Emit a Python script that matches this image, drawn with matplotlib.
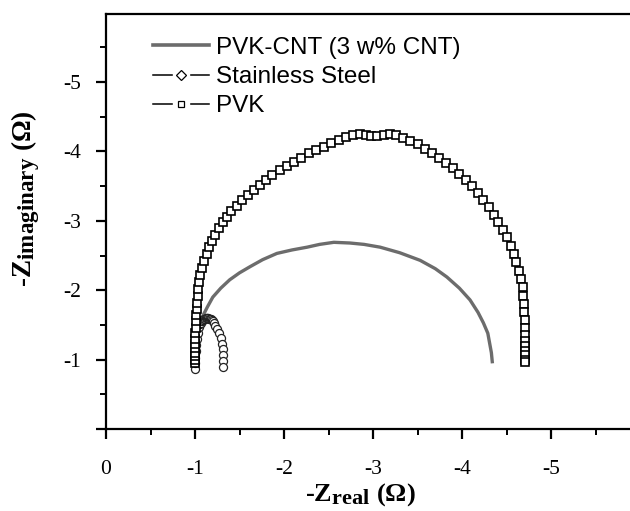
import matplotlib
matplotlib.use("Agg")
import matplotlib.pyplot as plt
import matplotlib._mathtext as _mt
from matplotlib.lines import Line2D
from matplotlib.legend_handler import HandlerTuple
from matplotlib.ticker import MultipleLocator

plt.rcParams['axes.unicode_minus'] = False
plt.rcParams['mathtext.fontset'] = 'custom'
plt.rcParams['mathtext.rm'] = 'Liberation Serif'
plt.rcParams['mathtext.bf'] = 'Liberation Serif:bold'
plt.rcParams['mathtext.it'] = 'Liberation Serif:italic'
# larger subscripts, as in the reference labels
_mt.SHRINK_FACTOR = 0.85

# ---- data (Z values in ohm, plotted as negative numbers like the axis labels) ----
cnt_zreal = [-1.08, -1.14, -1.20, -1.29, -1.39, -1.50, -1.62, -1.76, -1.92, -2.09,
             -2.26, -2.40, -2.56, -2.74, -2.90, -3.08, -3.30, -3.53, -3.70, -3.83,
             -3.97, -4.09, -4.18, -4.24, -4.29, -4.31, -4.33, -4.34]
cnt_zimag = [-1.61, -1.76, -1.90, -2.03, -2.15, -2.25, -2.34, -2.44, -2.53, -2.58,
             -2.62, -2.66, -2.69, -2.68, -2.66, -2.62, -2.54, -2.43, -2.31, -2.19,
             -2.03, -1.86, -1.68, -1.53, -1.38, -1.24, -1.10, -0.97]

ss_zreal = [-1.00, -1.00, -1.00, -1.01, -1.01, -1.02, -1.03, -1.05, -1.06, -1.07,
            -1.08, -1.09, -1.10, -1.11, -1.12, -1.13, -1.14, -1.15, -1.16, -1.17,
            -1.18, -1.19, -1.20, -1.21, -1.23, -1.25, -1.27, -1.29, -1.30, -1.31,
            -1.31, -1.32, -1.32]
ss_zimag = [-0.87, -0.95, -1.03, -1.12, -1.21, -1.30, -1.39, -1.47, -1.51, -1.53,
            -1.55, -1.57, -1.58, -1.59, -1.60, -1.60, -1.60, -1.60, -1.59, -1.59,
            -1.58, -1.57, -1.55, -1.53, -1.49, -1.44, -1.38, -1.31, -1.23, -1.15,
            -1.06, -0.98, -0.90]

pvk_zreal = [-1.00, -1.00, -1.00, -1.00, -1.00, -1.00, -1.00, -1.00, -1.01, -1.01,
             -1.01, -1.02, -1.02, -1.03, -1.03, -1.04, -1.06, -1.08, -1.10, -1.13,
             -1.16, -1.19, -1.23, -1.27, -1.31, -1.36, -1.41, -1.47, -1.53, -1.59,
             -1.66, -1.73, -1.80, -1.87, -1.95, -2.03, -2.11, -2.19, -2.28, -2.36,
             -2.45, -2.53, -2.62, -2.70, -2.78, -2.85, -2.92, -2.98, -3.05, -3.12,
             -3.19, -3.26, -3.34, -3.42, -3.50, -3.58, -3.66, -3.74, -3.82, -3.90,
             -3.97, -4.04, -4.11, -4.18, -4.24, -4.30, -4.36, -4.41, -4.46, -4.51,
             -4.55, -4.58, -4.61, -4.64, -4.66, -4.68, -4.69, -4.70, -4.70, -4.71,
             -4.71, -4.71, -4.71, -4.71, -4.71, -4.71, -4.71, -4.71]
pvk_zimag = [-0.95, -1.00, -1.05, -1.10, -1.16, -1.22, -1.30, -1.38, -1.46, -1.55,
             -1.64, -1.73, -1.82, -1.92, -2.02, -2.12, -2.22, -2.32, -2.42, -2.52,
             -2.62, -2.71, -2.80, -2.89, -2.98, -3.06, -3.14, -3.22, -3.30, -3.37,
             -3.45, -3.52, -3.59, -3.66, -3.73, -3.79, -3.85, -3.91, -3.97, -4.02,
             -4.07, -4.12, -4.17, -4.21, -4.24, -4.25, -4.23, -4.22, -4.22, -4.23,
             -4.25, -4.24, -4.20, -4.15, -4.10, -4.04, -3.98, -3.91, -3.84, -3.76,
             -3.68, -3.59, -3.50, -3.40, -3.30, -3.20, -3.09, -2.98, -2.87, -2.76,
             -2.64, -2.52, -2.40, -2.28, -2.16, -2.04, -1.92, -1.80, -1.68, -1.57,
             -1.46, -1.36, -1.27, -1.19, -1.12, -1.06, -1.00, -0.96]

series_labels = ["PVK-CNT (3 w% CNT)", "Stainless Steel", "PVK"]
x_ticks = [0, -1, -2, -3, -4, -5]
x_ticklabels = ["0", "-1", "-2", "-3", "-4", "-5"]
y_ticks = [0, -1, -2, -3, -4, -5]
y_ticklabels = ["", "-1", "-2", "-3", "-4", "-5"]

gray = '#6c6c6c'

fig = plt.figure(figsize=(6.3, 5.11), dpi=100)
ax = fig.add_axes([106 / 630, 82 / 511, 524 / 630, 415 / 511])

ax.plot(cnt_zreal, cnt_zimag, color=gray, lw=2.4, zorder=2)
ax.plot(ss_zreal, ss_zimag, color='black', lw=0.8, marker='o', ms=5.8,
        mfc='white', mec='#222222', mew=0.9, zorder=3)
ax.plot(pvk_zreal, pvk_zimag, color='black', lw=0.8, marker='s', ms=6.0,
        mfc='white', mec='black', mew=1.2, zorder=4)

ax.set_xlim(0, -524 / 89)
ax.set_ylim(0, -415 / 69.4)

for s in ['left', 'bottom', 'top']:
    ax.spines[s].set_linewidth(1.6)
ax.spines['right'].set_visible(False)

ax.set_xticks(x_ticks)
ax.set_xticklabels(x_ticklabels)
ax.set_yticks(y_ticks)
ax.set_yticklabels(y_ticklabels)
ax.xaxis.set_minor_locator(MultipleLocator(0.5))
ax.yaxis.set_minor_locator(MultipleLocator(0.5))
ax.tick_params(axis='both', which='major', direction='out', length=7, width=1.6,
               top=False, right=False)
ax.tick_params(axis='both', which='minor', direction='out', length=4, width=1.4,
               top=False, right=False)
ax.tick_params(axis='x', which='major', pad=15, labelsize=15.5)
ax.tick_params(axis='y', which='major', pad=11, labelsize=15.5)
for lab in ax.get_xticklabels() + ax.get_yticklabels():
    lab.set_family('Liberation Serif')

ax.set_xlabel(r'-$\mathbf{Z_{real}}$ (Ω)', fontsize=19, fontweight='bold',
              family='Liberation Serif')
ax.set_ylabel(r'-$\mathbf{Z_{imaginary}}$ (Ω)', fontsize=19.5, fontweight='bold',
              family='Liberation Serif')
ax.xaxis.set_label_coords(0.485, -0.125)
ax.yaxis.set_label_coords(-0.122, 0.555)

# legend handles
h_cnt = Line2D([], [], color=gray, lw=2.6)
base = Line2D([], [], color='black', lw=1.1)
gap_d = Line2D([], [], ls='none', marker='s', ms=11, mfc='white', mec='white')
mk_d = Line2D([], [], ls='none', marker='D', ms=4.6, mfc='white', mec='black', mew=0.9)
gap_s = Line2D([], [], ls='none', marker='s', ms=11, mfc='white', mec='white')
mk_s = Line2D([], [], ls='none', marker='s', ms=5.0, mfc='white', mec='black', mew=0.9)

leg = ax.legend([h_cnt, (base, gap_d, mk_d), (base, gap_s, mk_s)], series_labels,
                handler_map={tuple: HandlerTuple(ndivide=1)},
                loc='upper left', bbox_to_anchor=(0.09, 0.945), frameon=False,
                borderpad=0, borderaxespad=0, handlelength=2.3, handletextpad=0.3,
                labelspacing=0.3, prop={'family': 'Liberation Sans', 'size': 17.5})

fig.savefig('out.png', dpi=100)
